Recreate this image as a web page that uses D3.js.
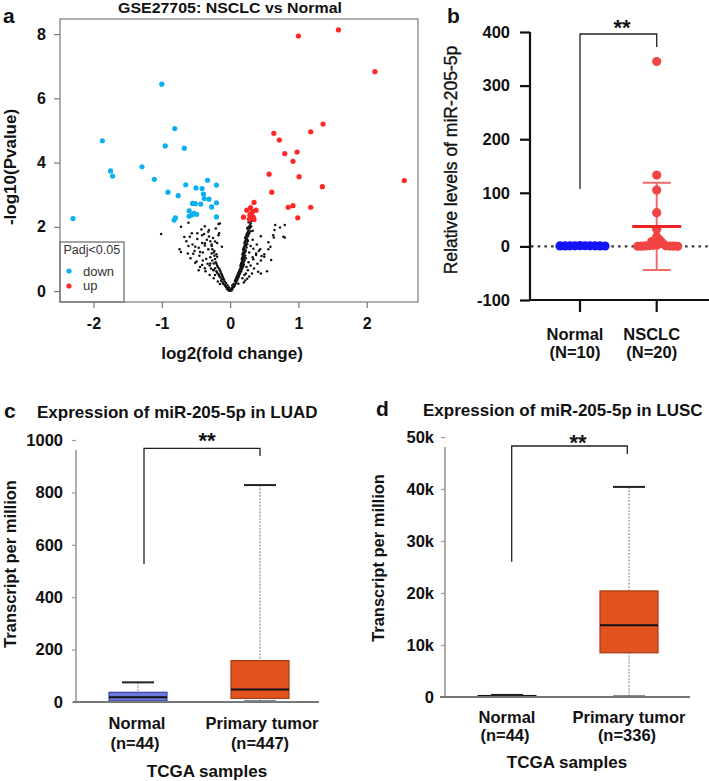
<!DOCTYPE html>
<html><head><meta charset="utf-8">
<script src="https://cdn.jsdelivr.net/npm/d3@7"></script>
<style>
body{margin:0;background:#fff;}
svg{display:block;font-family:"Liberation Sans",Arial,Helvetica,sans-serif;}
</style></head><body>
<svg id="fig" width="709" height="781"></svg>
<script>
// ---------------- DATA ----------------
// Panel a: volcano plot  [log2FC, -log10 P]
const volcanoDown = [[-2.30,2.26],[-1.87,4.68],[-1.75,3.74],[-1.72,3.58],[-1.29,3.87],[-1.11,3.48],[-1.00,6.44],[-0.95,4.52],[-0.91,3.08],[-0.81,5.06],[-0.82,2.21],[-0.80,2.28],[-0.76,2.97],[-0.67,4.45],[-0.65,3.31],[-0.60,2.50],[-0.60,2.33],[-0.56,2.37],[-0.55,2.73],[-0.53,2.42],[-0.51,2.72],[-0.50,3.21],[-0.49,2.39],[-0.43,2.71],[-0.41,3.19],[-0.39,3.02],[-0.38,2.88],[-0.33,3.45],[-0.31,2.86],[-0.27,2.62],[-0.20,3.30],[-0.20,2.75],[-0.20,2.31]];
const volcanoUp = [[1.585,8.13],[1.00,7.94],[2.12,6.83],[2.55,3.44],[1.36,5.20],[1.18,4.96],[0.64,4.91],[0.72,4.70],[0.80,4.28],[0.98,4.33],[0.92,4.04],[0.57,3.64],[1.01,3.56],[0.61,3.08],[1.35,3.25],[0.92,2.66],[0.85,2.61],[1.18,2.61],[0.99,2.28],[0.35,2.76],[0.244,2.52],[0.38,2.52],[0.30,2.60],[0.195,2.30],[0.29,2.37],[0.34,2.30],[0.28,2.24],[0.35,2.23],[0.31,2.42],[0.33,2.48]];
const volcanoNS = [[0,0.01],[-0.02,0.02],[0.02,0.02],[-0.01,0.04],[0.01,0.05],[-0.04,0.05],[0.03,0.06],[-0.03,0.08],[0.02,0.09],[-0.05,0.10],[0.04,0.10],[-0.06,0.13],[0.05,0.13],[-0.02,0.12],[0.06,0.15],[-0.07,0.16],[0.03,0.17],[-0.04,0.18],[-0.08,0.20],[0.07,0.20],[-0.10,0.22],[0.05,0.22],[0.08,0.24],[-0.06,0.25],[-0.11,0.27],[0.09,0.28],[-0.15,0.22],[0.12,0.23],[-0.08,0.30],[0.07,0.31],[-0.13,0.32],[0.10,0.33],[-0.18,0.30],[0.20,0.27],[-0.09,0.35],[0.08,0.36],[-0.12,0.37],[0.11,0.38],[0.22,0.33],[-0.10,0.40],[0.09,0.41],[-0.14,0.42],[0.12,0.43],[-0.24,0.40],[0.18,0.40],[-0.11,0.45],[0.10,0.46],[-0.16,0.47],[0.13,0.48],[0.25,0.38],[-0.12,0.50],[0.11,0.51],[-0.17,0.52],[0.14,0.53],[-0.22,0.50],[0.21,0.50],[-0.30,0.50],[0.28,0.45],[-0.13,0.55],[0.12,0.56],[-0.19,0.57],[0.15,0.58],[0.23,0.55],[0.32,0.55],[-0.14,0.60],[0.13,0.61],[-0.20,0.62],[0.16,0.62],[-0.36,0.62],[0.54,0.62],[-0.15,0.65],[0.14,0.66],[-0.25,0.66],[0.17,0.67],[0.26,0.65],[0.41,0.60],[0.45,0.55],[-0.16,0.70],[0.15,0.71],[-0.22,0.71],[0.18,0.72],[-0.28,0.70],[-0.37,0.71],[0.35,0.70],[-0.46,0.65],[-0.24,0.65],[-0.18,0.75],[0.16,0.76],[0.19,0.77],[0.24,0.75],[-0.44,0.75],[-0.19,0.80],[0.15,0.80],[0.17,0.81],[0.20,0.82],[-0.30,0.80],[0.30,0.80],[-0.41,0.81],[-0.20,0.85],[0.16,0.85],[0.19,0.86],[-0.24,0.86],[-0.33,0.85],[-0.29,0.86],[0.40,0.85],[-0.51,0.88],[-0.21,0.90],[0.17,0.90],[0.20,0.91],[0.27,0.90],[-0.49,0.92],[-0.26,0.95],[0.18,0.95],[0.21,0.96],[-0.40,0.95],[0.45,0.95],[-0.22,1.00],[0.17,1.00],[0.19,1.01],[0.23,1.02],[-0.35,1.00],[-0.58,1.02],[0.34,0.99],[0.60,0.97],[-0.19,1.07],[0.18,1.05],[0.21,1.06],[-0.29,1.05],[0.33,1.05],[0.46,1.09],[0.50,1.07],[-0.23,1.10],[0.19,1.10],[0.22,1.11],[-0.45,1.10],[0.38,1.12],[-0.27,1.17],[0.18,1.15],[0.20,1.16],[-0.54,1.16],[-0.62,1.17],[0.38,1.17],[0.50,1.15],[-0.20,1.15],[-0.24,1.20],[0.19,1.20],[0.22,1.21],[-0.44,1.22],[-0.72,1.22],[-0.40,1.20],[0.28,1.20],[-0.23,1.25],[0.20,1.25],[0.23,1.26],[-0.52,1.25],[0.42,1.25],[-0.26,1.30],[0.19,1.30],[0.21,1.31],[-0.74,1.30],[-0.32,1.30],[0.44,1.30],[0.56,1.30],[0.34,1.32],[-0.12,1.38],[0.20,1.35],[0.24,1.36],[-0.51,1.38],[-0.61,1.40],[-0.46,1.35],[0.59,1.38],[-0.27,1.40],[0.21,1.40],[0.23,1.41],[-0.37,1.42],[0.30,1.40],[-0.27,1.45],[0.22,1.45],[0.25,1.46],[-0.55,1.45],[0.39,1.45],[-0.37,1.49],[-0.22,1.54],[0.21,1.50],[0.24,1.51],[-0.41,1.50],[-0.19,1.50],[0.56,1.52],[-0.29,1.55],[0.22,1.55],[0.26,1.56],[-0.64,1.55],[-0.34,1.60],[0.23,1.60],[0.25,1.61],[-0.48,1.62],[0.33,1.60],[-0.25,1.65],[0.22,1.65],[0.24,1.66],[-0.67,1.68],[0.64,1.67],[0.78,1.69],[0.80,1.67],[-0.31,1.70],[0.23,1.70],[0.26,1.71],[0.45,1.71],[0.63,1.74],[-0.41,1.74],[-0.17,1.74],[-0.59,1.69],[0.24,1.75],[0.27,1.76],[-0.38,1.78],[-0.56,1.80],[-1.01,1.78],[-0.16,1.80],[0.25,1.80],[0.28,1.81],[-0.48,1.80],[-0.32,1.85],[0.26,1.85],[0.30,1.86],[0.33,1.88],[-0.42,1.92],[0.27,1.90],[0.65,1.90],[-0.31,1.90],[-0.21,1.95],[0.25,1.95],[0.29,1.96],[0.26,1.98],[0.73,1.98],[-0.72,2.00],[-0.37,2.02],[0.28,2.00],[0.31,2.01],[0.80,2.06],[0.66,2.06],[-0.17,2.09],[0.29,2.05],[-0.61,2.13],[-0.15,2.10],[0.30,2.10],[0.27,2.14],[0.31,2.17]];
const volcanoXTicks = [-2,-1,0,1,2];
const volcanoYTicks = [0,2,4,6,8];

// Panel b: qPCR relative levels
const qpcrGroups = ["Normal","NSCLC"];
const qpcrN = ["(N=10)","(N=20)"];
const qpcrNormal = [1.2,0.8,1.0,1.1,0.9,1.3,0.7,1.0,1.05,0.95];
const qpcrNSCLC = [345,133,105,63,32,18,12,10,9,6,3,2,1.5,1,0.8,0.6,0.5,0.4,0.3,0.2];
const qpcrYTicks = [-100,0,100,200,300,400];

// Panels c, d: TCGA boxplots
const tcgaGroups = ["Normal","Primary tumor"];
const luadN = ["(n=44)","(n=447)"];
const luadMin = [0,2];
const luadQ1 = [4,14];
const luadMed = [18,48];
const luadQ3 = [37,158];
const luadMax = [75,828];
const luadYTicks = [0,200,400,600,800,1000];
const luscN = ["(n=44)","(n=336)"];
const luscMin = [60,100];
const luscQ1 = [120,8500];
const luscMed = [200,13800];
const luscQ3 = [280,20400];
const luscMax = [400,40400];
const luscYTicks = [0,10000,20000,30000,40000,50000];

// ---------------- DRAW ----------------
const svg = d3.select("#fig");
const BOLD = "bold";

function txt(g, x, y, s, size, opts={}) {
  const t = g.append("text").attr("x", x).attr("y", y).text(s)
    .attr("font-size", size).attr("font-weight", opts.weight || BOLD)
    .attr("fill", opts.fill || "#111").attr("text-anchor", opts.anchor || "start");
  if (opts.rotate) t.attr("transform", `rotate(-90,${x},${y})`);
  if (opts.len) t.attr("textLength", opts.len).attr("lengthAdjust", "spacingAndGlyphs");
  return t;
}

// ===== Panel a =====
{
  const g = svg.append("g");
  const x = d3.scaleLinear([-2.49, 2.75], [60, 418]);
  const y = d3.scaleLinear([-0.34, 8.47], [302, 19]);
  const xa = g.append("g").attr("transform", "translate(0,302)")
    .call(d3.axisBottom(x).tickValues(volcanoXTicks).tickSize(6).tickPadding(10).tickFormat(d => String(d)));
  const ya = g.append("g").attr("transform", "translate(60,0)")
    .call(d3.axisLeft(y).tickValues(volcanoYTicks).tickSize(6).tickPadding(8).tickFormat(d => String(d)));
  [xa, ya].forEach(a => {
    a.select(".domain").remove();
    a.selectAll(".tick line").attr("stroke", "#7a7a7a").attr("stroke-width", 1.2);
    a.selectAll(".tick text").attr("font-size", 16).attr("font-weight", BOLD).attr("fill", "#111")
      .attr("font-family", "Liberation Sans, Arial, sans-serif");
  });
  g.append("g").selectAll("circle").data(volcanoNS).join("circle")
    .attr("cx", d => x(d[0])).attr("cy", d => y(d[1])).attr("r", 1.25).attr("fill", "#111");
  g.append("g").selectAll("circle").data(volcanoDown).join("circle")
    .attr("cx", d => x(d[0])).attr("cy", d => y(d[1])).attr("r", 2.6).attr("fill", "#0AB0F0");
  g.append("g").selectAll("circle").data(volcanoUp).join("circle")
    .attr("cx", d => x(d[0])).attr("cy", d => y(d[1])).attr("r", 2.6).attr("fill", "#FF2626");
  // legend
  g.append("rect").attr("x", 60).attr("y", 242).attr("width", 64).attr("height", 60)
    .attr("fill", "#fff").attr("stroke", "#666").attr("stroke-width", 1.2);
  txt(g, 63.5, 253.5, "Padj<0.05", 12.5, {weight: "normal", fill: "#333"});
  g.append("circle").attr("cx", 69).attr("cy", 271).attr("r", 2.6).attr("fill", "#0AB0F0");
  g.append("circle").attr("cx", 69).attr("cy", 286).attr("r", 2.6).attr("fill", "#FF2626");
  txt(g, 83, 276, "down", 13, {weight: "normal", fill: "#333"});
  txt(g, 83, 290, "up", 13, {weight: "normal", fill: "#333"});
  g.append("rect").attr("x", 60).attr("y", 19).attr("width", 358).attr("height", 283)
    .attr("fill", "none").attr("stroke", "#7a7a7a").attr("stroke-width", 1.2);
  txt(g, 230, 13, "GSE27705: NSCLC vs Normal", 15, {anchor: "middle", len: 224});
  txt(g, 3, 22.5, "a", 21);
  txt(g, 232, 359, "log2(fold change)", 17, {anchor: "middle"});
  txt(g, 16, 167, "-log10(Pvalue)", 17, {anchor: "middle", rotate: true});
}

// ===== Panel b =====
{
  const g = svg.append("g");
  const y = d3.scaleLinear([-100, 400], [300, 32]);
  const x = d3.scalePoint(qpcrGroups, [580, 656.7]);
  // dotted zero line
  g.append("line").attr("x1", 531).attr("x2", 709).attr("y1", y(0)).attr("y2", y(0))
    .attr("stroke", "#333").attr("stroke-width", 2.4).attr("stroke-dasharray", "2.5,4.2");
  const ya = g.append("g").attr("transform", "translate(530,0)")
    .call(d3.axisLeft(y).tickValues(qpcrYTicks).tickSize(10).tickPadding(10).tickFormat(d => String(d)));
  ya.select(".domain").attr("stroke", "#111").attr("stroke-width", 2.2).attr("d", `M0,${y(-100)}V${y(400)}`);
  ya.selectAll(".tick line").attr("stroke", "#111").attr("stroke-width", 2.2);
  ya.selectAll(".tick text").attr("font-size", 16.5).attr("font-weight", BOLD).attr("fill", "#111")
    .attr("font-family", "Liberation Sans, Arial, sans-serif");
  g.append("line").attr("x1", 529).attr("x2", 709).attr("y1", y(-100)).attr("y2", y(-100))
    .attr("stroke", "#111").attr("stroke-width", 2.2);
  qpcrGroups.forEach((c, i) => {
    g.append("line").attr("x1", x(c)).attr("x2", x(c)).attr("y1", y(-100)).attr("y2", y(-100) + 12)
      .attr("stroke", "#111").attr("stroke-width", 2.2);
    txt(g, x(c) - 5, 340, c, 16.5, {anchor: "middle"});
    txt(g, x(c) - 5, 358, qpcrN[i], 16.5, {anchor: "middle"});
  });
  function swarm(values, cx, minD) {
    const placed = [];
    values.slice().sort((a, b) => b - a).forEach(v => {
      const py = y(v);
      let off = 0;
      for (let k = 0; k < 400; k++) {
        const o = k === 0 ? 0 : (k % 2 ? Math.ceil(k / 2) : -Math.ceil(k / 2));
        if (placed.every(q => Math.hypot(q.x - (cx + o), q.y - py) >= minD)) { off = o; break; }
      }
      placed.push({x: cx + off, y: py, v});
    });
    return placed;
  }
  // NSCLC mean and SD
  const m = d3.mean(qpcrNSCLC), sd = d3.deviation(qpcrNSCLC);
  const cx = x("NSCLC");
  g.append("path").attr("d", `M${cx},${y(m - sd)}V${y(m + sd)}M${cx - 14},${y(m + sd)}H${cx + 14}M${cx - 14},${y(m - sd)}H${cx + 14}`)
    .attr("stroke", "#F26B6B").attr("stroke-width", 2).attr("fill", "none");
  g.append("g").selectAll("circle").data(swarm(qpcrNormal, x("Normal"), 5)).join("circle")
    .attr("cx", d => d.x).attr("cy", d => d.y).attr("r", 4.6).attr("fill", "#1414F5");
  g.append("g").selectAll("circle").data(swarm(qpcrNSCLC, cx, 4)).join("circle")
    .attr("cx", d => d.x).attr("cy", d => d.y).attr("r", 4.6).attr("fill", "#F24444");
  const mn = d3.mean(qpcrNormal);
  g.append("line").attr("x1", x("Normal") - 22).attr("x2", x("Normal") + 22).attr("y1", y(mn)).attr("y2", y(mn))
    .attr("stroke", "#1414F5").attr("stroke-width", 3);
  g.append("line").attr("x1", cx - 24.5).attr("x2", cx + 24.5).attr("y1", y(m)).attr("y2", y(m))
    .attr("stroke", "#EE2222").attr("stroke-width", 3.2);
  // bracket
  g.append("path").attr("d", `M${x("Normal")},${y(107)}V34H${cx}V47`)
    .attr("stroke", "#222").attr("stroke-width", 1.3).attr("fill", "none");
  txt(g, 622, 35, "**", 22, {anchor: "middle"});
  txt(g, 447, 23, "b", 21);
  txt(g, 457, 160, "Relative levels of miR-205-5p", 17.5, {anchor: "middle", rotate: true, weight: "normal"})
    .attr("stroke", "#111").attr("stroke-width", 0.35);
}

// ===== Panels c, d =====
function boxPanel(o) {
  const g = svg.append("g");
  const y = d3.scaleLinear(o.yDomain, o.yRange);
  const x = d3.scalePoint(tcgaGroups, o.centers);
  const ya = g.append("g").attr("transform", `translate(${o.axisX},0)`)
    .call(d3.axisLeft(y).tickValues(o.ticks).tickSize(4).tickPadding(o.pad).tickFormat(o.fmt));
  ya.select(".domain").attr("d", `M0,${o.yRange[0]}V${o.axisTop}`).attr("stroke", "#999").attr("stroke-width", 1.6);
  ya.selectAll(".tick line").attr("stroke", "#999").attr("stroke-width", 1.2);
  ya.selectAll(".tick text").attr("font-size", 16.5).attr("font-weight", BOLD).attr("fill", "#111")
    .attr("font-family", "Liberation Sans, Arial, sans-serif");
  const fills = ["#6B78DC", "#E2541F"], strokes = ["#3B47A8", "#A83A12"];
  const bw = 58, cw = 32;
  tcgaGroups.forEach((c, i) => {
    const cx = x(c);
    g.append("line").attr("x1", cx).attr("x2", cx).attr("y1", y(o.max[i])).attr("y2", y(o.min[i]))
      .attr("stroke", "#8a8a8a").attr("stroke-width", 1.1).attr("stroke-dasharray", "2,1.3");
    g.append("rect").attr("x", cx - bw / 2).attr("width", bw)
      .attr("y", y(o.q3[i])).attr("height", Math.max(1, y(o.q1[i]) - y(o.q3[i])))
      .attr("fill", fills[i]).attr("stroke", strokes[i]).attr("stroke-width", 1.2);
    g.append("line").attr("x1", cx - bw / 2).attr("x2", cx + bw / 2).attr("y1", y(o.med[i])).attr("y2", y(o.med[i]))
      .attr("stroke", "#111").attr("stroke-width", 2);
    [o.max[i], o.min[i]].forEach(v => {
      g.append("line").attr("x1", cx - cw / 2).attr("x2", cx + cw / 2).attr("y1", y(v)).attr("y2", y(v))
        .attr("stroke", "#222").attr("stroke-width", 2);
    });
    txt(g, cx + o.lblDx[i], o.lblY1, c, 16.5, {anchor: "middle"});
    txt(g, cx + o.lblDx[i] - 2, o.lblY2, o.nLabels[i], 16.5, {anchor: "middle"});
  });
  g.append("line").attr("x1", o.xLine[0]).attr("x2", o.xLine[1]).attr("y1", o.yRange[0]).attr("y2", o.yRange[0])
    .attr("stroke", "#777").attr("stroke-width", 2);
  g.append("path").attr("d", o.bracket(x, y)).attr("stroke", "#222").attr("stroke-width", 1.3).attr("fill", "none");
  txt(g, o.stars[0], o.stars[1], "**", 22, {anchor: "middle"});
  txt(g, o.letter[1], o.letter[2], o.letter[0], 21);
  txt(g, o.title[1], o.title[2], o.title[0], 17);
  txt(g, o.yTitle[0], o.yTitle[1], "Transcript per million", 16.5, {anchor: "middle", rotate: true});
  txt(g, o.samples[0], o.samples[1], "TCGA samples", 17, {anchor: "middle"});
}

boxPanel({
  yDomain: [0, 1000], yRange: [702, 440], axisX: 76, axisTop: 450, pad: 9,
  ticks: luadYTicks, fmt: d => String(d), centers: [138, 260],
  min: luadMin, q1: luadQ1, med: luadMed, q3: luadQ3, max: luadMax, nLabels: luadN,
  lblDx: [-1, 2], lblY1: 728.5, lblY2: 748.5, xLine: [73, 319],
  bracket: (x, y) => `M144,564V448.3H${x("Primary tumor")}V456`,
  stars: [207, 448], letter: ["c", 4, 418], title: ["Expression of miR-205-5p in LUAD", 37, 418],
  yTitle: [16, 564], samples: [207, 776.5]
});
boxPanel({
  yDomain: [0, 50000], yRange: [697, 437], axisX: 445, axisTop: 447, pad: 7,
  ticks: luscYTicks, fmt: d => d === 0 ? "0" : (d / 1000) + "k", centers: [507, 629],
  min: luscMin, q1: luscQ1, med: luscMed, q3: luscQ3, max: luscMax, nLabels: luscN,
  lblDx: [0, 0], lblY1: 722.5, lblY2: 741, xLine: [440, 690],
  bracket: (x, y) => `M511.7,561.7V446H${x("Primary tumor") - 1.7}V454`,
  stars: [578, 450], letter: ["d", 376, 416], title: ["Expression of miR-205-5p in LUSC", 423, 416],
  yTitle: [384, 558], samples: [567, 768]
});
</script>
</body></html>
